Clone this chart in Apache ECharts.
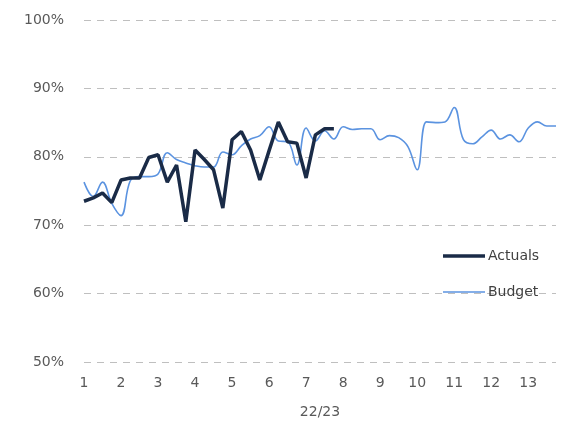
<!DOCTYPE html>
<html>
<head>
<meta charset="utf-8">
<script src="https://cdn.jsdelivr.net/npm/echarts@6/dist/echarts.min.js"></script>
<style>html,body{margin:0;padding:0;background:#fff}#c{width:564px;height:433px}</style>
</head>
<body>
<div id="c"></div>
<script>
// 52 weeks, labelled by period (4 weeks per period)
const periodLabels = ['1','2','3','4','5','6','7','8','9','10','11','12','13'];
const weeks = [];
for (let i = 0; i < 52; i++) weeks.push('W' + (i + 1));

const actuals = [73.5, 74.0, 74.7, 73.3, 76.6, 76.9, 76.9, 79.9, 80.3, 76.3,
  78.8, 70.5, 81.0, 79.6, 78.1, 72.5, 82.5, 83.7, 81.0, 76.6,
  80.9, 85.1, 82.2, 82.0, 76.9, 83.2, 84.1, 84.1];

const budget = [76.3, 74.2, 76.3, 73.2, 71.4, 76.5, 77.1, 77.1, 77.5, 80.6,
  79.6, 79.1, 78.7, 78.5, 78.5, 80.7, 80.3, 81.6, 82.6, 83.1,
  84.4, 82.3, 82.2, 78.8, 84.2, 82.3, 83.8, 82.6, 84.4, 84.0,
  84.1, 84.1, 82.5, 83.1, 82.8, 81.5, 78.1, 85.1, 85.0, 85.1,
  87.2, 82.5, 81.9, 82.9, 83.9, 82.6, 83.2, 82.2, 84.2, 85.1,
  84.5, 84.5];

const xName = '22/23';
const ff = 'DejaVu Sans';
const cAct = '#1a2b47';
const cBud = '#5b93e0';

const legendText = { color: '#404040', fontSize: 14, fontFamily: ff, padding: [0, 0, 0, -2] };

const chart = echarts.init(document.getElementById('c'));
chart.setOption({
  animation: false,
  backgroundColor: '#fff',
  grid: { left: 84, right: 8, top: 20, bottom: 71 },
  xAxis: {
    type: 'category',
    data: weeks,
    boundaryGap: false,
    name: xName,
    nameLocation: 'middle',
    nameGap: 43,
    nameTextStyle: { color: '#595959', fontSize: 14, fontFamily: ff },
    axisLine: { show: false },
    axisTick: { show: false },
    axisLabel: {
      interval: 0,
      margin: 14,
      color: '#595959', fontSize: 14, fontFamily: ff,
      formatter: (v, idx) => (idx % 4 === 0 ? periodLabels[idx / 4] : '')
    },
    splitLine: { show: false }
  },
  yAxis: {
    type: 'value',
    min: 50, max: 100, interval: 10,
    axisLine: { show: false },
    axisTick: { show: false },
    axisLabel: { formatter: '{value}%', color: '#595959', fontSize: 14, fontFamily: ff, margin: 20 },
    splitLine: { lineStyle: { color: '#bfbfbf', type: [7, 6], width: 1 } }
  },
  legend: [
    {
      orient: 'vertical', left: 443, top: 249, padding: 0,
      icon: 'rect', itemWidth: 42, itemHeight: 3.5,
      textStyle: legendText,
      data: ['Actuals']
    },
    {
      orient: 'vertical', left: 443, top: 285, padding: 0,
      icon: 'rect', itemWidth: 42, itemHeight: 1.6,
      textStyle: legendText,
      data: ['Budget']
    }
  ],
  series: [
    {
      name: 'Actuals', type: 'line', data: actuals, symbol: 'none',
      lineStyle: { color: cAct, width: 3.5 }, itemStyle: { color: cAct }, z: 3
    },
    {
      name: 'Budget', type: 'line', data: budget, symbol: 'none', smooth: 0.4,
      lineStyle: { color: cBud, width: 1.6 }, itemStyle: { color: cBud }, z: 2
    }
  ]
});
</script>
</body>
</html>
